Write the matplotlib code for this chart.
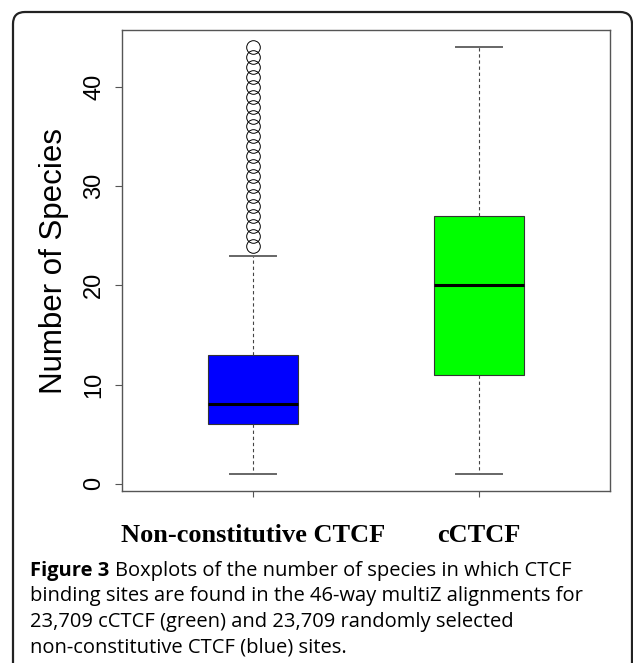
import matplotlib.pyplot as plt
from matplotlib.patches import FancyBboxPatch
from matplotlib.transforms import IdentityTransform

# box statistics
groups = ['Non-constitutive CTCF', 'cCTCF']
q1 = [6, 11]
medians = [8, 20]
q3 = [13, 27]
whisker_low = [1, 1]
whisker_high = [23, 44]
outliers = [[24, 25, 26, 27, 28, 29, 30, 31, 32, 33, 34, 35, 36, 37, 38, 39, 40, 41, 42, 43, 44], []]
box_colors = ['#0000ff', '#00ff00']
y_ticks = [0, 10, 20, 30, 40]

caption_head = 'Figure 3'
caption_lines = [
    'Boxplots of the number of species in which CTCF',
    'binding sites are found in the 46-way multiZ alignments for',
    '23,709 cCTCF (green) and 23,709 randomly selected',
    'non-constitutive CTCF (blue) sites.',
]

W, H = 633, 663
fig = plt.figure(figsize=(W / 100, H / 100), dpi=100)

# rounded frame round the figure panel
frame = FancyBboxPatch((13, -30), 619, 651 + 30, boxstyle='round,pad=0,rounding_size=12',
                       transform=IdentityTransform(), fill=False, edgecolor='#222222', lw=1.6)
fig.add_artist(frame)

ax = fig.add_axes([122 / W, 1 - 491 / H, (610 - 122) / W, (491 - 30) / H])

stats = []
for i in range(len(groups)):
    stats.append({'q1': q1[i], 'med': medians[i], 'q3': q3[i],
                  'whislo': whisker_low[i], 'whishi': whisker_high[i],
                  'fliers': outliers[i], 'label': groups[i]})

bp = ax.bxp(stats, positions=[1, 2], widths=0.4, capwidths=0.2, patch_artist=True,
            boxprops=dict(edgecolor='#333333', lw=0.8),
            medianprops=dict(color='black', lw=2.2),
            whiskerprops=dict(color='#444444', lw=0.8, linestyle=(0, (3, 2.5))),
            capprops=dict(color='#666666', lw=1.4),
            flierprops=dict(marker='o', markersize=9.8, markerfacecolor='none',
                            markeredgecolor='black', markeredgewidth=0.7))
for patch, c in zip(bp['boxes'], box_colors):
    patch.set_facecolor(c)

ax.set_xlim(0.42, 2.58)
ax.set_ylim(-0.72, 45.72)
for s in ax.spines.values():
    s.set_color('#555555')
    s.set_linewidth(1.0)

ax.set_yticks(y_ticks)
ax.set_yticklabels([str(t) for t in y_ticks], family='Liberation Sans', fontsize=17)
plt.setp(ax.get_yticklabels(), rotation=90, va='center')
ax.tick_params(axis='y', length=5, width=0.8, color='#555555', pad=7)

ax.set_xticks([1, 2])
ax.set_xticklabels(groups, family='Liberation Serif', fontweight='bold', fontsize=19)
ax.tick_params(axis='x', length=4.5, width=0.8, color='#555555', pad=19)

ax.set_ylabel('Number of Species', family='Liberation Sans', fontsize=22.5, labelpad=10)

# caption: bold head, then the rest of the first line right after it
cap_size = 14.5
base_y = [576, 601.5, 627, 652.5]
head = fig.text(30 / W, 1 - base_y[0] / H, caption_head, family='Open Sans', fontweight='bold',
                fontsize=cap_size, va='baseline', ha='left')
fig.canvas.draw()
bb = head.get_window_extent()
fig.text((bb.x1 + 6) / W, 1 - base_y[0] / H, caption_lines[0], family='Open Sans',
         fontsize=cap_size, va='baseline', ha='left')
for k in range(1, len(caption_lines)):
    fig.text(30 / W, 1 - base_y[k] / H, caption_lines[k], family='Open Sans',
             fontsize=cap_size, va='baseline', ha='left')

fig.savefig('out.png', dpi=100)
